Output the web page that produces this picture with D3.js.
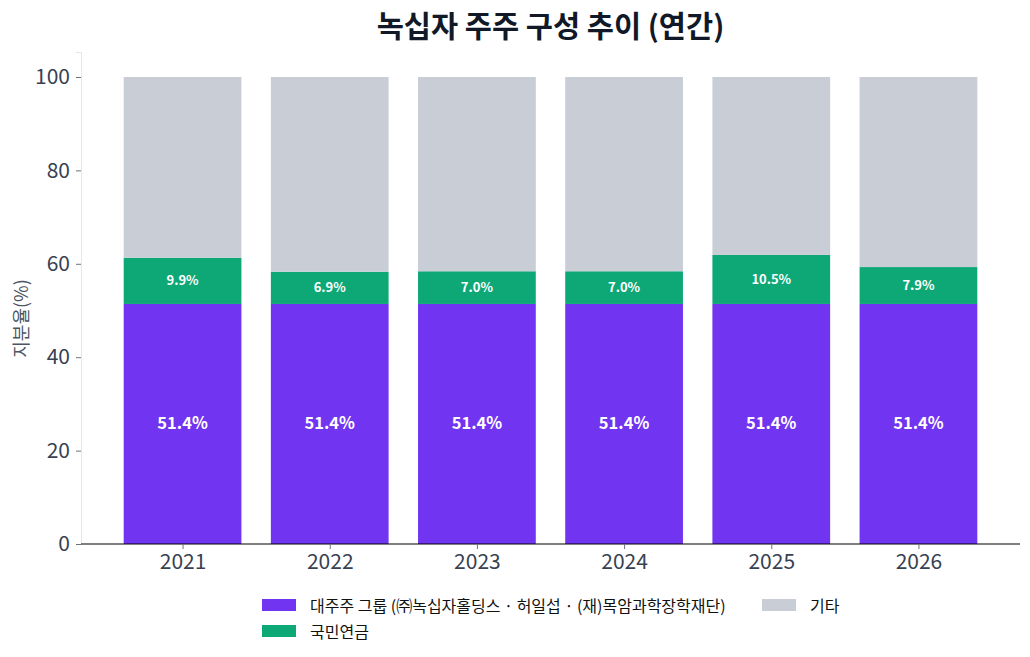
<!DOCTYPE html>
<html>
<head>
<meta charset="utf-8">
<script src="https://cdn.jsdelivr.net/npm/d3@7"></script>
<style>
  body { margin: 0; background: #fff; }
  text { font-family: "Noto Sans CJK KR", "Noto Sans", sans-serif; }
</style>
</head>
<body>
<div id="chart"></div>
<script>
// data
var years = ["2021", "2022", "2023", "2024", "2025", "2026"];
var majorGroup = [51.4, 51.4, 51.4, 51.4, 51.4, 51.4];
var nps = [9.9, 6.9, 7.0, 7.0, 10.5, 7.9];
var others = [38.7, 41.7, 41.6, 41.6, 38.1, 40.7];
var yTicks = [0, 20, 40, 60, 80, 100];
var seriesNames = ["대주주 그룹 (㈜녹십자홀딩스 · 허일섭 · (재)목암과학장학재단)", "국민연금", "기타"];
var colors = ["#7134F0", "#0EA877", "#C9CDD6"];

var W = 1030, H = 657;
var margin = {top: 52, right: 10, bottom: 113, left: 81},
    width = W - margin.left - margin.right,
    height = H - margin.top - margin.bottom;

var svg = d3.select("#chart").append("svg")
    .attr("width", W).attr("height", H);

var g = svg.append("g")
    .attr("transform", "translate(" + margin.left + "," + margin.top + ")");

// x in "bar index" units like matplotlib, -0.69 .. 5.69
var xlin = d3.scaleLinear().domain([-0.69, years.length - 1 + 0.69]).range([0, width]);
var barW = xlin(0.8) - xlin(0);
var yscl = d3.scaleLinear().domain([0, 105.35]).range([height, 0]);

// stack
var rows = years.map(function(y, i) {
  return {year: y, i: i, a: majorGroup[i], b: nps[i], c: others[i]};
});
var stacked = d3.stack().keys(["a", "b", "c"])(rows);

stacked.forEach(function(layer, k) {
  g.selectAll(".bar" + k).data(layer).enter().append("rect")
    .attr("x", function(d) { return xlin(d.data.i) - barW / 2; })
    .attr("y", function(d) { return yscl(d[1]); })
    .attr("width", barW)
    .attr("height", function(d) { return yscl(d[0]) - yscl(d[1]); })
    .attr("fill", colors[k]);
});

// labels
g.selectAll(".lblA").data(stacked[0]).enter().append("text")
  .attr("x", function(d) { return xlin(d.data.i); })
  .attr("y", function(d) { return yscl((d[0] + d[1]) / 2) - 1.5; })
  .attr("text-anchor", "middle").attr("dominant-baseline", "central")
  .attr("fill", "#fff").attr("font-size", 16.5).attr("font-weight", "bold")
  .text(function(d) { return d.data.a.toFixed(1) + "%"; });

g.selectAll(".lblB").data(stacked[1]).enter().append("text")
  .attr("x", function(d) { return xlin(d.data.i); })
  .attr("y", function(d) { return yscl((d[0] + d[1]) / 2) - 1; })
  .attr("text-anchor", "middle").attr("dominant-baseline", "central")
  .attr("fill", "#fff").attr("font-size", 13).attr("font-weight", "bold")
  .text(function(d) { return d.data.b.toFixed(1) + "%"; });

// y axis
var yAxis = g.append("g")
  .call(d3.axisLeft(yscl).tickValues(yTicks).tickSize(5).tickPadding(6));
yAxis.select(".domain").attr("stroke", "#e5e7eb");
yAxis.selectAll(".tick line").attr("stroke", "#6b7280");
yAxis.selectAll("text").attr("font-size", 21).attr("fill", "#374151")
  .style("font-family", "'Noto Sans CJK KR', sans-serif");

// x axis
var xAxis = g.append("g")
  .attr("transform", "translate(0," + height + ")")
  .call(d3.axisBottom(xlin).tickValues(d3.range(years.length))
    .tickFormat(function(i) { return years[i]; }).tickSize(5).tickPadding(5));
xAxis.select(".domain").attr("stroke", "#000").attr("stroke-width", 1.2)
  .attr("d", "M0,0H" + width);
xAxis.selectAll(".tick line").attr("stroke", "#6b7280");
xAxis.selectAll("text").attr("font-size", 21).attr("fill", "#374151")
  .style("font-family", "'Noto Sans CJK KR', sans-serif");

// y label
svg.append("text")
  .attr("transform", "translate(20," + (margin.top + yscl(50) + 8) + ") rotate(-90)")
  .attr("text-anchor", "middle").attr("dominant-baseline", "central")
  .attr("font-size", 18).attr("fill", "#4b5563")
  .text("지분율(%)");

// title
svg.append("text")
  .attr("x", margin.left + width / 2).attr("y", 24)
  .attr("text-anchor", "middle").attr("dominant-baseline", "central")
  .attr("font-size", 29.5).attr("font-weight", "bold").attr("fill", "#111827")
  .text("녹십자 주주 구성 추이 (연간)");

// legend
var legendItems = [
  {name: seriesNames[0], color: colors[0], x: 262, y: 605},
  {name: seriesNames[2], color: colors[2], x: 762, y: 605},
  {name: seriesNames[1], color: colors[1], x: 262, y: 631}
];
var lg = svg.selectAll(".leg").data(legendItems).enter().append("g")
  .attr("transform", function(d) { return "translate(" + d.x + "," + d.y + ")"; });
lg.append("rect").attr("x", 0).attr("y", -6).attr("width", 34).attr("height", 12)
  .attr("fill", function(d) { return d.color; });
lg.append("text").attr("x", 48).attr("y", 0).attr("dominant-baseline", "central")
  .attr("font-size", 16).attr("fill", "#111")
  .text(function(d) { return d.name; });
</script>
</body>
</html>
